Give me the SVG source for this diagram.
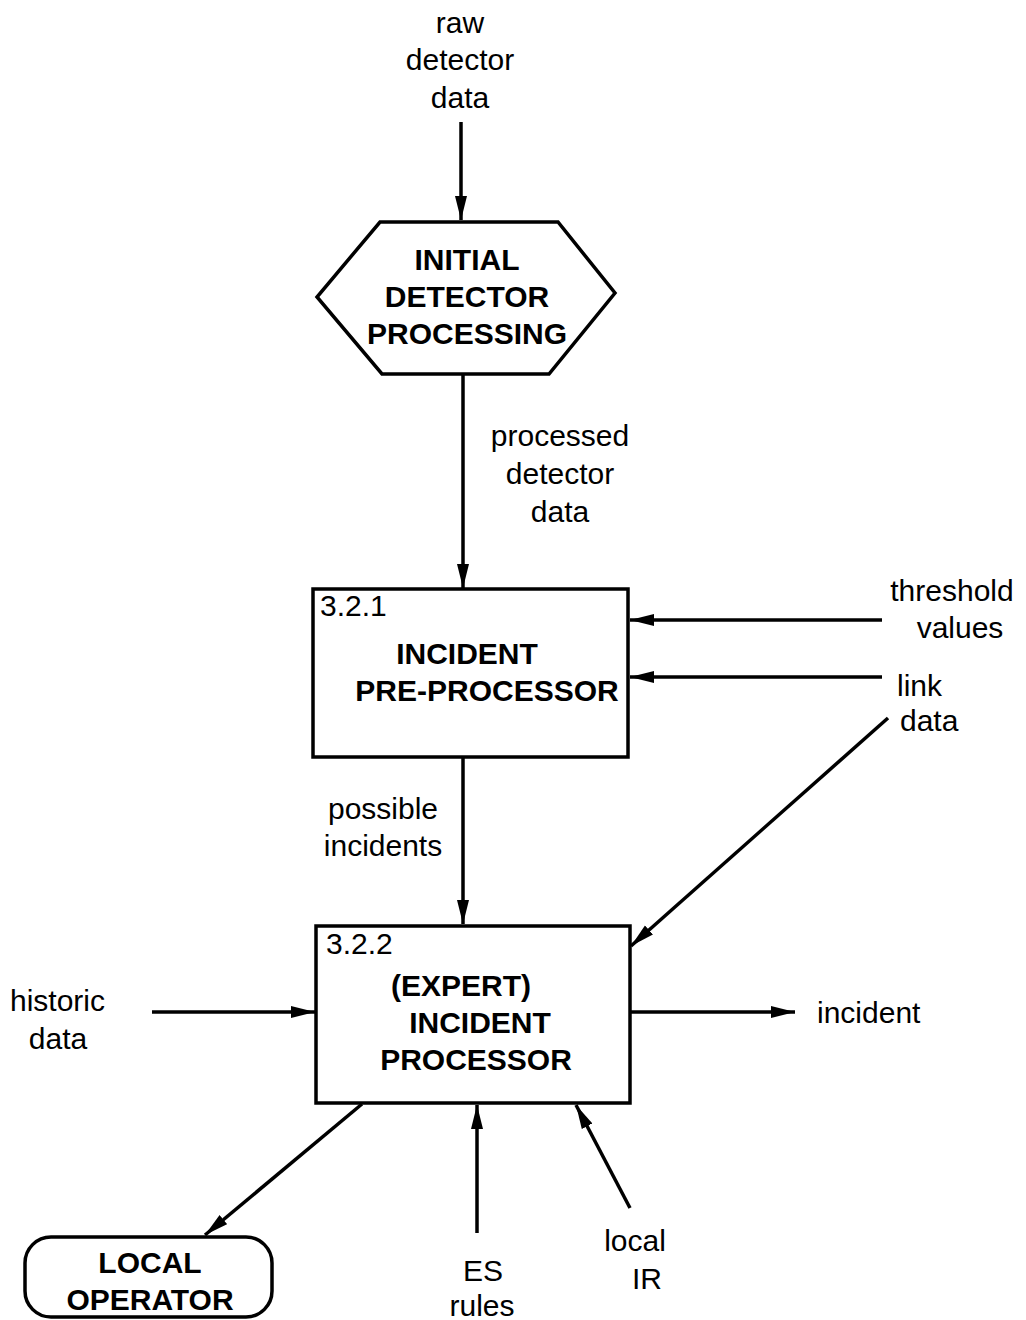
<svg xmlns="http://www.w3.org/2000/svg" width="1026" height="1320" viewBox="0 0 1026 1320">
<style>
.shape{fill:#fff;stroke:#000;stroke-width:3.5}
.conn{stroke:#000;stroke-width:3.5;fill:none}
.t{font-family:"Liberation Sans",Arial,Helvetica,sans-serif;font-size:30px;fill:#000}
.b{font-family:"Liberation Sans",Arial,Helvetica,sans-serif;font-size:30px;font-weight:bold;fill:#000}
.m{text-anchor:middle}
</style>
<defs>
<marker id="arr" markerUnits="userSpaceOnUse" markerWidth="26" markerHeight="14" refX="24" refY="7" orient="auto">
<path d="M0,1 L24,7 L0,13 z" fill="#000"/>
</marker>
</defs>
<rect width="1026" height="1320" fill="#fff"/>

<g id="connectors">
<line class="conn" x1="461" y1="122" x2="461" y2="220" marker-end="url(#arr)"/>
<line class="conn" x1="463" y1="375" x2="463" y2="588" marker-end="url(#arr)"/>
<line class="conn" x1="882" y1="620" x2="630" y2="620" marker-end="url(#arr)"/>
<line class="conn" x1="882" y1="677" x2="630" y2="677" marker-end="url(#arr)"/>
<line class="conn" x1="463" y1="757" x2="463" y2="924" marker-end="url(#arr)"/>
<line class="conn" x1="888" y1="718" x2="631" y2="946" marker-end="url(#arr)"/>
<line class="conn" x1="152" y1="1012" x2="315" y2="1012" marker-end="url(#arr)"/>
<line class="conn" x1="630" y1="1012" x2="795" y2="1012" marker-end="url(#arr)"/>
<line class="conn" x1="362" y1="1104" x2="205" y2="1235" marker-end="url(#arr)"/>
<line class="conn" x1="477" y1="1233" x2="477" y2="1105" marker-end="url(#arr)"/>
<line class="conn" x1="630" y1="1208" x2="576" y2="1105" marker-end="url(#arr)"/>
</g>

<g id="input-labels">
<text class="t m" x="460" y="33">raw</text>
<text class="t m" x="460" y="70">detector</text>
<text class="t m" x="460" y="108">data</text>
<text class="t m" x="560" y="446">processed</text>
<text class="t m" x="560" y="484">detector</text>
<text class="t m" x="560" y="522">data</text>
<text class="t m" x="952" y="601">threshold</text>
<text class="t m" x="960" y="638">values</text>
<text class="t" x="897" y="696">link</text>
<text class="t" x="900" y="731">data</text>
<text class="t m" x="383" y="819">possible</text>
<text class="t m" x="383" y="856">incidents</text>
<text class="t" x="10" y="1011">historic</text>
<text class="t m" x="58" y="1049">data</text>
<text class="t" x="817" y="1023">incident</text>
<text class="t m" x="483" y="1281">ES</text>
<text class="t m" x="482" y="1316">rules</text>
<text class="t m" x="635" y="1251">local</text>
<text class="t m" x="647" y="1289">IR</text>
</g>

<g id="initial-detector-processing">
<polygon class="shape" points="380,222 558,222 615,293 549,374 382,374 317,297"/>
<text class="b m" x="467" y="270">INITIAL</text>
<text class="b m" x="467" y="307">DETECTOR</text>
<text class="b m" x="467" y="344">PROCESSING</text>
</g>

<g id="incident-pre-processor">
<rect class="shape" x="313" y="589" width="315" height="168"/>
<text class="t" x="320" y="616">3.2.1</text>
<text class="b m" x="467" y="664">INCIDENT</text>
<text class="b m" x="487" y="701">PRE-PROCESSOR</text>
</g>

<g id="expert-incident-processor">
<rect class="shape" x="316" y="926" width="314" height="177"/>
<text class="t" x="326" y="954">3.2.2</text>
<text class="b m" x="461" y="996">(EXPERT)</text>
<text class="b m" x="480" y="1033">INCIDENT</text>
<text class="b m" x="476" y="1070">PROCESSOR</text>
</g>

<g id="local-operator">
<rect class="shape" x="25" y="1237" width="247" height="80" rx="26" ry="26"/>
<text class="b m" x="150" y="1273">LOCAL</text>
<text class="b m" x="150" y="1310">OPERATOR</text>
</g>
</svg>
